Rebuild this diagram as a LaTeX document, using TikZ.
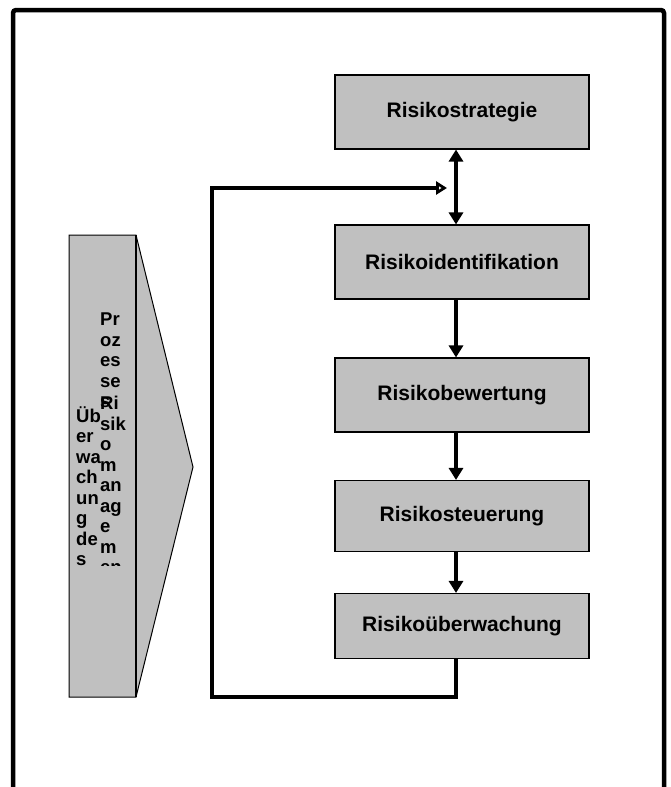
\documentclass[tikz,border=0pt]{standalone}
\usepackage{fontspec}
\setmainfont{Liberation Sans}
\usetikzlibrary{arrows.meta}
\definecolor{boxgray}{HTML}{C0C0C0}
\begin{document}
\begin{tikzpicture}[x=1pt,y=-1pt,
  procbox/.style={draw=black, line width=1.1pt, fill=boxgray, minimum width=254pt,
    font=\fontsize{21}{24}\selectfont\bfseries, inner sep=0pt},
  vtext/.style={align=left, inner sep=0pt, font=\fontsize{18.5}{20.5}\selectfont\bfseries},
  flow/.style={line width=4pt, -{Triangle[width=14pt,length=12pt]}},
  both/.style={line width=4pt, {Triangle[width=14pt,length=12pt]}-{Triangle[width=14pt,length=12pt]}},
  back/.style={line width=4pt, -{Triangle[width=13pt,length=11pt,fill=white]}}
]
\useasboundingbox (0,0) rectangle (670,787);
% frame
\draw[line width=4.5pt, rounded corners=3pt] (13,800) -- (13,10) -- (664,10) -- (664,800);

% left chevron
\draw[fill=boxgray, line width=1pt] (69,235) -- (136,235) -- (193,467) -- (136,697) -- (69,697) -- cycle;
\draw[line width=2pt] (136,235) -- (136,697);
\node[vtext, anchor=north west] (t1) at (76,406) {Üb\\er\\wa\\ch\\un\\g\\de\\s};
\node[vtext, anchor=north west] (t2) at (100,313) {Pr\\oz\\es\\se\\s};
\begin{scope}
\clip (60,235) rectangle (137,565);
\node[vtext, anchor=north west] (t3) at (100,396) {Ri\\sik\\o\\m\\an\\ag\\e\\m\\en};
\end{scope}

% boxes
\node[procbox, minimum height=74pt] (b1) at (462,112) {Risikostrategie};
\node[procbox, minimum height=74pt] (b2) at (462,262) {Risikoidentifikation};
\node[procbox, minimum height=74pt] (b3) at (462,395) {Risikobewertung};
\node[procbox, minimum height=71pt] (b4) at (462,516) {Risikosteuerung};
\node[procbox, minimum height=65pt] (b5) at (462,626) {Risikoüberwachung};

\coordinate (ax) at (456,0);
\draw[both] (b1.south -| ax) -- (b2.north -| ax);
\draw[flow] (b2.south -| ax) -- (b3.north -| ax);
\draw[flow] (b3.south -| ax) -- (b4.north -| ax);
\draw[flow] (b4.south -| ax) -- (b5.north -| ax);

\coordinate (fbl) at (212,697);
\coordinate (fbt) at (212,188);
\coordinate (fbe) at (447,188);
\draw[back] (b5.south -| ax) |- (fbl) -- (fbt) -- (fbe);
\end{tikzpicture}
\end{document}
